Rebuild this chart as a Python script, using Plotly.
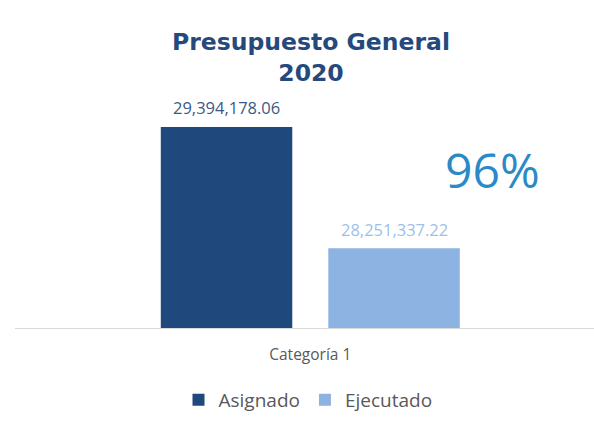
import plotly.graph_objects as go

categories = ["Categoría 1"]
series_names = ["Asignado", "Ejecutado"]
asignado = [29394178.06]
ejecutado = [28251337.22]
percent_label = "96%"
title_text = "Presupuesto General<br>2020"

colors = ["#1F497D", "#8DB3E2"]
label_colors = ["#3A5A85", "#9DBFE8"]

bargap = 0.4214
bargroupgap = 0.215
x0 = -0.51  # left end of the category axis range

fig = go.Figure()
annotations = []
series_values = [asignado, ejecutado]
slot = (1 - bargap) / 2
for i, (name, vals, c, lc) in enumerate(zip(series_names, series_values, colors, label_colors)):
    fig.add_trace(go.Bar(
        name=name, x=categories, y=vals, marker=dict(color=c, line=dict(width=0)),
    ))
    offset = -(1 - bargap) / 2 + slot * (i + 0.5)
    for j, v in enumerate(vals):
        annotations.append(dict(
            x=j + offset, y=v, xref="x", yref="y", text=f"{v:,.2f}",
            showarrow=False, xanchor="center", yanchor="middle", yshift=19,
            font=dict(family="Open Sans", size=16.5, color=lc)))

annotations.append(dict(text=percent_label, xref="paper", yref="paper",
                        x=(492 - 15) / 579, y=(328 - 169) / 248,
                        xanchor="center", yanchor="middle", showarrow=False,
                        font=dict(family="Open Sans", size=48, color="#2A8AC8")))

fig.update_layout(
    width=594, height=423,
    margin=dict(l=15, r=0, t=80, b=95, autoexpand=False),
    paper_bgcolor="white", plot_bgcolor="white",
    barmode="group", bargap=bargap, bargroupgap=bargroupgap,
    title=dict(text=title_text, x=311 / 594, xanchor="center",
               yref="container", y=1 - 50 / 423, yanchor="middle",
               font=dict(family="DejaVu Sans", size=23.5, color="#26497C", weight="bold")),
    xaxis=dict(range=[x0, x0 + 1], showline=True, linecolor="#D9D9D9", linewidth=1,
               ticks="", ticklabelstandoff=12, automargin=False,
               tickfont=dict(family="Open Sans", size=15.5, color="#595959"),
               showgrid=False),
    yaxis=dict(range=[27.5e6, 29.837e6], visible=False, showgrid=False, zeroline=False,
               automargin=False),
    showlegend=True,
    legend=dict(orientation="h", x=308 / 594, xref="container", xanchor="center",
                yref="container", y=(423 - 400) / 423, yanchor="middle",
                font=dict(family="Open Sans", size=19, color="#595959"),
                traceorder="normal", itemwidth=30),
    annotations=annotations,
)

fig.write_html("out.html", config={"displayModeBar": False},
               post_script="document.body.style.margin='0px';document.body.style.overflow='hidden';")
